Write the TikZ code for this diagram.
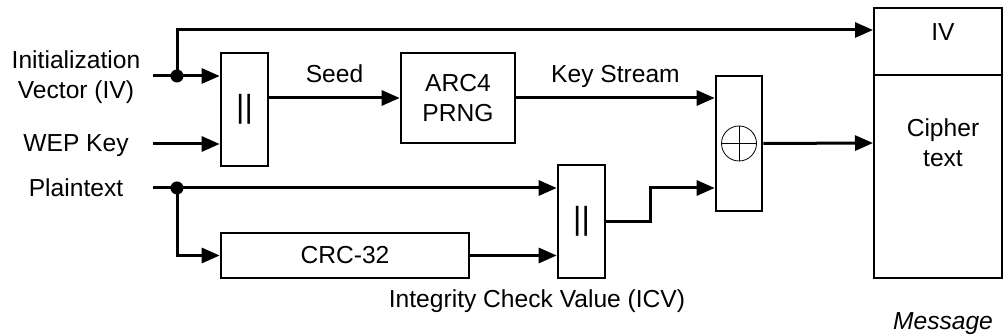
\documentclass[tikz,border=0pt]{standalone}
\usepackage{fontspec}
\setmainfont{Liberation Sans}
\usetikzlibrary{arrows.meta,calc,positioning}

\begin{document}
\begin{tikzpicture}[x=0.5pt,y=-0.5pt,font=\fontsize{12.3}{15}\selectfont,
  blockbox/.style={draw=black,line width=1.3pt,inner sep=0pt},
  catbox/.style={blockbox,minimum width=23.5pt,minimum height=56.5pt,font=\fontsize{16}{16}\selectfont},
  wire/.style={line width=1.5pt},
  arrowstyle/.style={wire,-{Triangle[length=9pt,width=7.5pt]}},
  solidnode/.style={circle,fill=black,inner sep=0pt,minimum size=6.5pt}]

 \useasboundingbox (0,0) rectangle (1003,335);

 % blocks
 \node[catbox] (cat1) at (244.5,109.5) {||};
 \node[blockbox,minimum width=57pt,minimum height=45pt,align=center] (arc) at (458,98) {ARC4\\PRNG};
 \node[blockbox,minimum width=23pt,minimum height=67.5pt] (xor) at (739,143.5) {};
 \node[circle,draw=black,thin,minimum size=17.5pt,inner sep=0pt] (xorsym) at (xor) {};
 \draw[thin] (xorsym.north) -- (xorsym.south) (xorsym.west) -- (xorsym.east);
 \node[catbox] (cat2) at (581.5,221.5) {||};
 \node[blockbox,minimum width=124pt,minimum height=22.5pt] (crc) at (345,255.5) {CRC-32};

 % message
 \node[draw=black,line width=1pt,minimum width=64pt,minimum height=135pt,inner sep=0pt] (msg) at (938,143) {};
 \draw[line width=1pt] ($(msg.north west)+(0,68)$) -- ($(msg.north east)+(0,68)$);
 \node (ivtext) at (943,32) {IV};
 \node[align=center] (ciphertext) at (943,143) {Cipher\\text};
 \node[anchor=base,font=\fontsize{12.3}{15}\selectfont\itshape] (msgtext) at (943,330) {Message};

 % inputs
 \node[align=center] (ivlabel) at (76,77) {Initialization\\Vector (IV)};
 \node[anchor=base] (keylabel) at (76,152) {WEP Key};
 \node[anchor=base] (ptlabel) at (76,197) {Plaintext};
 \coordinate (ivin) at (153,76);
 \coordinate (keyin) at (153,144);
 \coordinate (ptin) at (153,188);
 \coordinate (ivdot) at (177,76);
 \coordinate (ptdot) at (177,188);
 \coordinate (ivport) at ($(msg.north west)+(0,23)$);

 \draw[wire] (ivin) -- (ivdot);
 \draw[arrowstyle] (ivdot) -- (cat1.west |- ivdot);
 \draw[arrowstyle] (ivdot) |- (ivport);
 \draw[arrowstyle] (keyin) -- (cat1.west |- keyin);
 \draw[wire] (ptin) -- (ptdot);
 \draw[arrowstyle] (ptdot) -- (cat2.west |- ptdot);
 \draw[arrowstyle] (ptdot) |- (crc.west);
\foreach \p in {ivdot,ptdot}
	\node[solidnode] (\p-mark) at (\p) {};

 % key stream part
 \draw[arrowstyle] (cat1.east |- arc) -- (arc.west)
   node[midway,anchor=base,yshift=7.5pt] (seedlabel) {Seed};
 \draw[arrowstyle] (arc.east) -- (xor.west |- arc)
   node[midway,anchor=base,yshift=7.5pt] (kslabel) {Key Stream};

 % ICV part
 \draw[arrowstyle] (crc.east) -- (cat2.west |- crc);
 \node[anchor=base] (icvlabel) at (537,308) {Integrity Check Value (ICV)};
 \draw[arrowstyle] (cat2.east) -- ++(44,0) |- (xor.west |- ptdot);
 \draw[arrowstyle] (xor.east) -- (msg.west);
\end{tikzpicture}
\end{document}
